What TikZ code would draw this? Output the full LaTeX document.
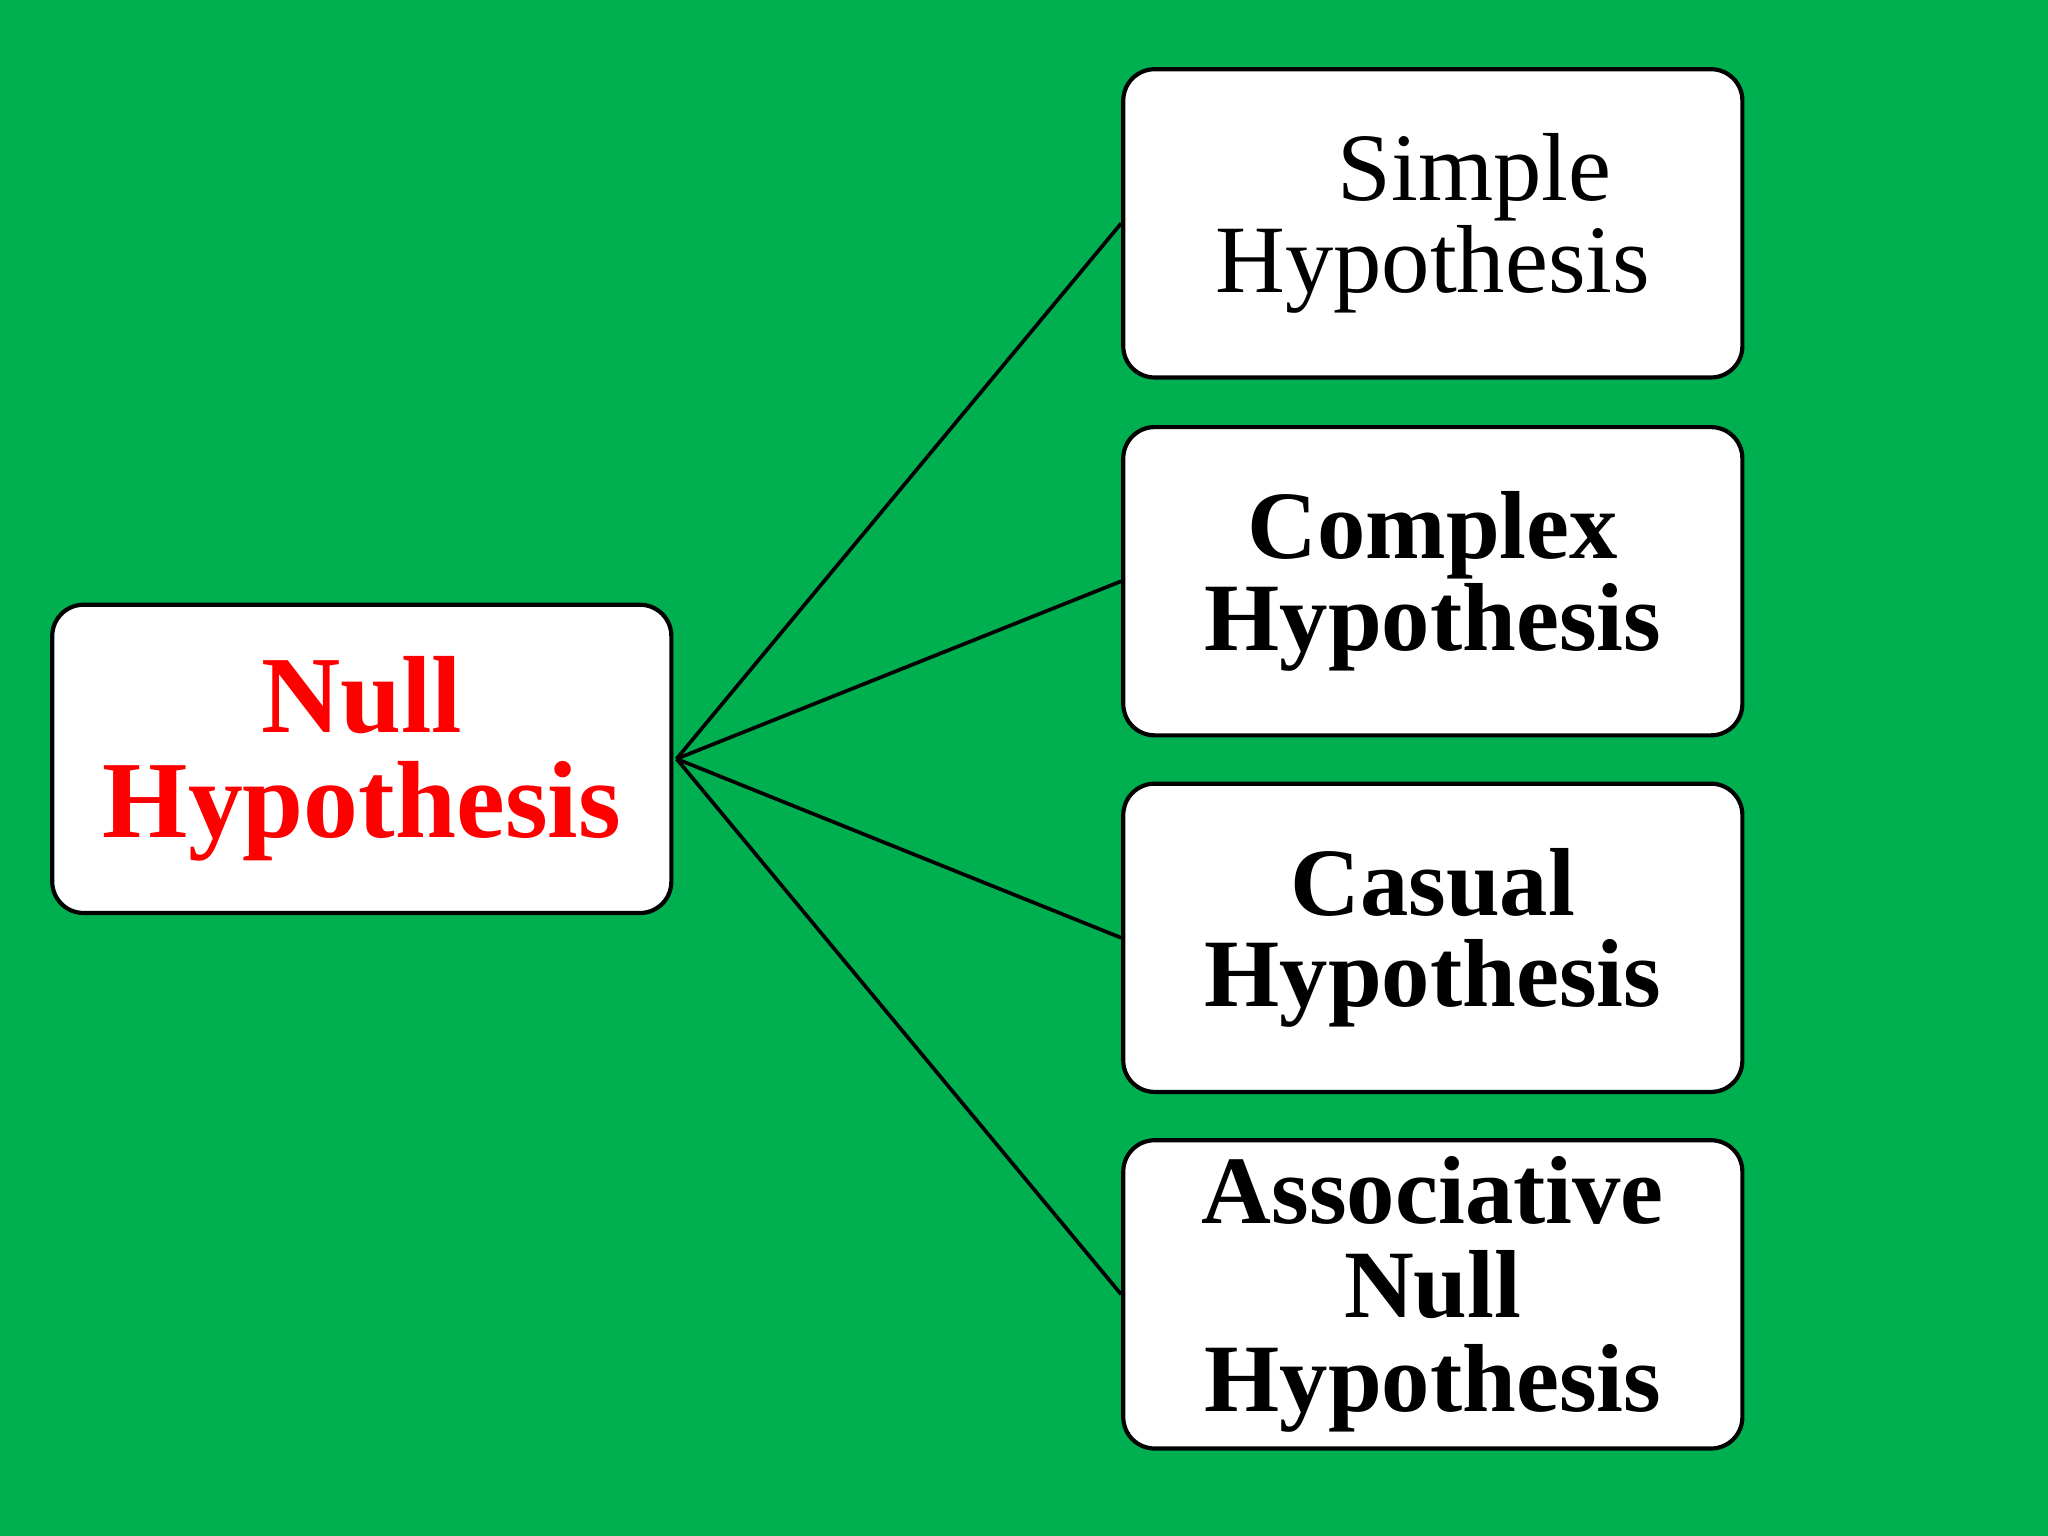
\documentclass[tikz,border=0pt]{standalone}
\usepackage{fontspec}
\setmainfont{Liberation Serif}
\definecolor{bg}{HTML}{00B050}
\definecolor{red1}{HTML}{FF0000}
\begin{document}
\begin{tikzpicture}[x=0.5pt,y=-0.5pt,
  box/.style={draw=black,line width=1.6pt,fill=white,rounded corners=12pt,minimum width=237pt,minimum height=118pt,inner sep=0pt,align=center},
  con/.style={line width=1.4pt}]
\fill[bg] (0,0) rectangle (1568,1176);
\useasboundingbox (0,0) rectangle (1568,1176);
\node[box,font=\fontsize{42}{40}\selectfont\bfseries,text=red1] (n) at (277,581) {Null\\Hypothesis};
\node[box,font=\fontsize{37}{35}\selectfont] (s) at (1097,171) {\hspace{32pt}Simple\\Hypothesis};
\node[box,font=\fontsize{37}{35}\selectfont\bfseries] (c) at (1097,445) {Complex\\Hypothesis};
\node[box,font=\fontsize{37}{35}\selectfont\bfseries] (ca) at (1097,718) {Casual\\Hypothesis};
\node[box,font=\fontsize{37}{36}\selectfont\bfseries] (a) at (1097,991) {Associative\\Null\\Hypothesis};
\coordinate (o) at (518,581);
\foreach \t in {s,c,ca,a} \draw[con] (o) -- (\t.west);
\end{tikzpicture}
\end{document}
